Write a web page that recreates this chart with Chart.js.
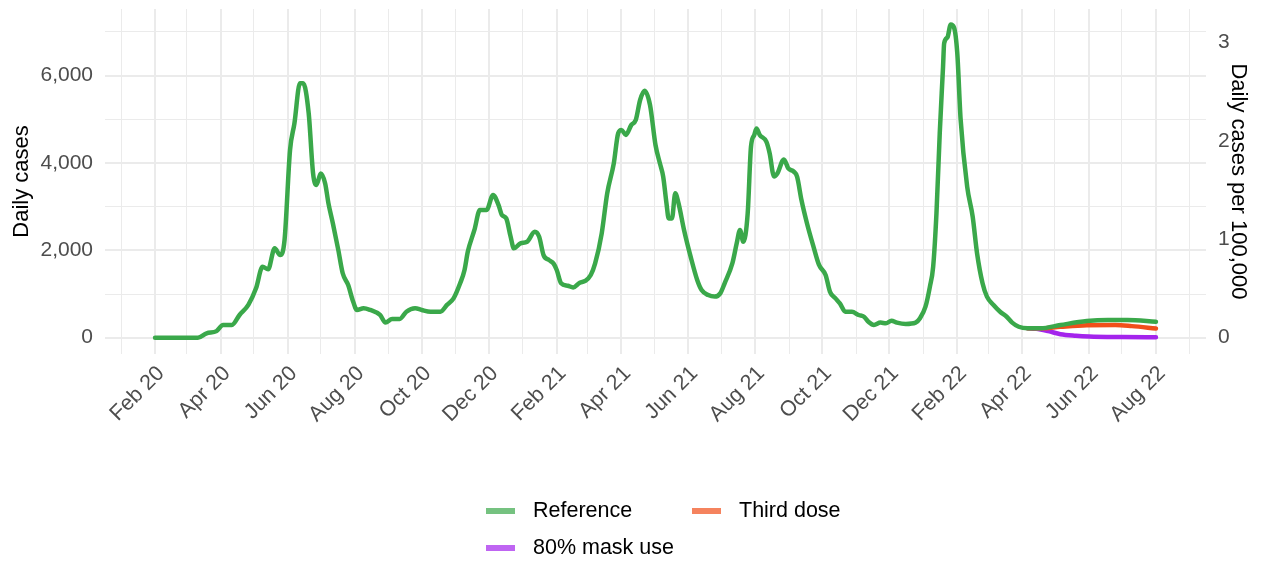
<!DOCTYPE html>
<html>
<head>
<meta charset="utf-8">
<title>Daily cases</title>
<script src="https://cdn.jsdelivr.net/npm/chart.js@4.4.1/dist/chart.umd.min.js"></script>
<style>
  body { margin: 0; background: #fff; }
  #wrap { position: relative; width: 1263px; height: 561px; }
  #legend {
    position: absolute; left: 486px; top: 492px;
    display: grid; grid-template-columns: 206px 206px;
    font: 21.5px "Liberation Sans", Arial, sans-serif; color: #000;
  }
  #legend .item { display: flex; align-items: center; height: 37px; }
  #legend .sw { width: 29px; height: 6px; margin-right: 18px; }
</style>
</head>
<body>
<div id="wrap">
  <canvas id="myChart"></canvas>
  <div id="legend"></div>
</div>
<script>
// ---- data ----
var refDates = [
  '2020-02-01','2020-03-11','2020-03-19','2020-03-28','2020-04-03','2020-04-11','2020-04-18','2020-04-26',
  '2020-05-03','2020-05-09','2020-05-14','2020-05-20','2020-05-25','2020-05-29','2020-06-03','2020-06-07',
  '2020-06-12','2020-06-15','2020-06-20','2020-06-24','2020-06-27','2020-07-01','2020-07-05','2020-07-08',
  '2020-07-12','2020-07-17','2020-07-21','2020-07-26','2020-07-30','2020-08-03','2020-08-09','2020-08-15',
  '2020-08-24','2020-08-29','2020-09-04','2020-09-11','2020-09-17','2020-09-25','2020-10-01','2020-10-09',
  '2020-10-18','2020-10-24','2020-10-30','2020-11-05','2020-11-09','2020-11-12','2020-11-18','2020-11-23',
  '2020-11-29','2020-12-05','2020-12-10','2020-12-13','2020-12-17','2020-12-21','2020-12-24','2020-12-30',
  '2021-01-05','2021-01-12','2021-01-16','2021-01-20','2021-01-25','2021-01-29','2021-02-01','2021-02-05',
  '2021-02-11','2021-02-16','2021-02-22','2021-02-27','2021-03-04','2021-03-08','2021-03-14','2021-03-19',
  '2021-03-25','2021-03-29','2021-04-01','2021-04-05','2021-04-10','2021-04-14','2021-04-18','2021-04-22',
  '2021-04-27','2021-05-02','2021-05-06','2021-05-09','2021-05-12','2021-05-14','2021-05-17','2021-05-20',
  '2021-05-23','2021-05-28','2021-06-03','2021-06-09','2021-06-13','2021-06-19','2021-06-25','2021-06-30',
  '2021-07-04','2021-07-11','2021-07-15','2021-07-18','2021-07-21','2021-07-25','2021-07-28','2021-07-31',
  '2021-08-02','2021-08-05','2021-08-11','2021-08-14','2021-08-18','2021-08-21','2021-08-27','2021-08-31',
  '2021-09-05','2021-09-08','2021-09-12','2021-09-17','2021-09-23','2021-09-28','2021-10-04','2021-10-08',
  '2021-10-13','2021-10-17','2021-10-22','2021-10-28','2021-11-03','2021-11-08','2021-11-12','2021-11-17',
  '2021-11-23','2021-11-28','2021-12-03','2021-12-08','2021-12-16','2021-12-25','2021-12-29','2022-01-03',
  '2022-01-07','2022-01-10','2022-01-13','2022-01-16','2022-01-19','2022-01-20','2022-01-23','2022-01-26',
  '2022-01-29','2022-02-01','2022-02-04','2022-02-10','2022-02-15','2022-02-19','2022-02-24','2022-02-28',
  '2022-03-06','2022-03-12','2022-03-18','2022-03-23','2022-03-29','2022-04-06','2022-04-18','2022-05-06',
  '2022-05-30','2022-06-18','2022-07-06','2022-08-01'
];
var refCases = [
  0, 0, 100, 150, 290, 290, 520, 750,
  1130, 1625, 1565, 2045, 1890, 2235, 4295, 4905,
  5820, 5820, 5135, 3760, 3495, 3760, 3530, 3075,
  2620, 2005, 1475, 1205, 865, 635, 675, 635,
  520, 345, 430, 430, 595, 675, 635, 595,
  595, 750, 900, 1245, 1550, 1970, 2465, 2920,
  2920, 3265, 3035, 2810, 2730, 2310, 2045, 2160,
  2195, 2425, 2310, 1890, 1775, 1700, 1550, 1245,
  1190, 1150, 1260, 1300, 1435, 1700, 2390, 3305,
  3990, 4680, 4755, 4640, 4870, 4980, 5440, 5650,
  5325, 4410, 3990, 3685, 3075, 2730, 2730, 3305,
  3075, 2465, 1855, 1320, 1090, 975, 940, 1015,
  1245, 1700, 2160, 2465, 2195, 2845, 4370, 4640,
  4790, 4640, 4485, 4220, 3690, 3760, 4080, 3875,
  3800, 3685, 3150, 2620, 2080, 1665, 1435, 1050,
  900, 785, 595, 595, 520, 480, 365, 290,
  345, 330, 390, 345, 315, 345, 445, 710,
  1165, 1625, 2845, 4680, 6200, 6735, 6870, 7170,
  7100, 6500, 5000, 3455, 2770, 1930, 1245, 940,
  750, 595, 480, 345, 250, 215, 215, 290,
  380, 405, 405, 365
];

var boostDates = ['2022-04-06','2022-04-18','2022-05-06','2022-05-30','2022-06-25','2022-07-10','2022-08-01'];
var boostCases = [215, 215, 250, 285, 290, 265, 210];

var maskDates = ['2022-04-06','2022-04-14','2022-04-25','2022-05-06','2022-05-20','2022-06-01','2022-07-01','2022-08-01'];
var maskCases = [215, 205, 150, 80, 45, 28, 15, 10];

var xTickDates = ['2020-02-01','2020-04-01','2020-06-01','2020-08-01','2020-10-01','2020-12-01',
  '2021-02-01','2021-04-01','2021-06-01','2021-08-01','2021-10-01','2021-12-01',
  '2022-02-01','2022-04-01','2022-06-01','2022-08-01'];
var xTickLabels = ['Feb 20','Apr 20','Jun 20','Aug 20','Oct 20','Dec 20',
  'Feb 21','Apr 21','Jun 21','Aug 21','Oct 21','Dec 21',
  'Feb 22','Apr 22','Jun 22','Aug 22'];
var xMinorDates = ['2020-01-01','2020-03-01','2020-05-01','2020-07-01','2020-09-01','2020-11-01',
  '2021-01-01','2021-03-01','2021-05-01','2021-07-01','2021-09-01','2021-11-01',
  '2022-01-01','2022-03-01','2022-05-01','2022-07-01','2022-09-01'];

var yTicks = [0, 2000, 4000, 6000];
var yMinorTicks = [1000, 3000, 5000, 7000];
var y2Ticks = [0, 1, 2, 3];
var casesPerUnit = 2254;   // daily cases that make 1 per 100,000

var seriesNames = ['Reference', 'Third dose', '80% mask use'];
var seriesColors = ['rgb(58,168,74)', 'rgb(241,79,26)', 'rgb(164,36,236)'];
var legendColors = ['rgba(58,168,74,0.7)', 'rgba(241,79,26,0.7)', 'rgba(164,36,236,0.7)'];

// ---- helpers ----
var day0 = Date.UTC(2020, 1, 1);
function dayNum(s) {
  var p = s.split('-');
  return (Date.UTC(+p[0], +p[1] - 1, +p[2]) - day0) / 86400000;
}
function toPoints(dates, vals) {
  return dates.map(function(d, i) { return { x: dayNum(d), y: vals[i] }; });
}

var majorDays = xTickDates.map(dayNum);
var minorDays = xMinorDates.map(dayNum);
var allXTicks = majorDays.concat(minorDays).sort(function(a, b) { return a - b; });

var xSpan = majorDays[majorDays.length - 1] - majorDays[0];
var xMin = majorDays[0] - 0.05 * xSpan;
var xMax = majorDays[majorDays.length - 1] + 0.05 * xSpan;
var yMin = -373, yMax = 7522;

Chart.defaults.font.family = '"Liberation Sans", Arial, sans-serif';

function makeSet(i, dates, vals) {
  return {
    label: seriesNames[i],
    data: toPoints(dates, vals),
    borderColor: seriesColors[i],
    backgroundColor: seriesColors[i],
    borderWidth: 4.5,
    pointRadius: 0,
    cubicInterpolationMode: 'monotone',
    borderCapStyle: 'round',
    borderJoinStyle: 'round',
    fill: false,
    yAxisID: 'y'
  };
}

// keep the plot panel where the original has it
function noPadY(axis, w) {
  axis.width = w;
  axis.paddingTop = 0;
  axis.paddingBottom = 0;
}

var ctx = document.getElementById('myChart').getContext('2d');
var myChart = new Chart(ctx, {
  type: 'line',
  data: {
    datasets: [
      makeSet(0, refDates, refCases),
      makeSet(1, boostDates, boostCases),
      makeSet(2, maskDates, maskCases)
    ]
  },
  options: {
    responsive: true,
    maintainAspectRatio: false,
    animation: false,
    layout: { padding: { top: 9, left: 0, right: 0, bottom: 0 } },
    plugins: { legend: { display: false }, tooltip: { enabled: false } },
    scales: {
      x: {
        type: 'linear',
        min: xMin,
        max: xMax,
        afterBuildTicks: function(axis) {
          axis.ticks = allXTicks.map(function(v) { return { value: v }; });
        },
        afterFit: function(axis) {
          axis.height = 207;
          axis.paddingLeft = 0;
          axis.paddingRight = 0;
        },
        ticks: {
          autoSkip: false,
          minRotation: 45,
          maxRotation: 45,
          padding: 7,
          labelOffset: 6,
          color: '#4D4D4D',
          font: { size: 21.5 },
          callback: function(value) {
            var i = majorDays.indexOf(value);
            return i >= 0 ? xTickLabels[i] : '';
          }
        },
        grid: {
          color: '#EBEBEB',
          drawTicks: false,
          lineWidth: function(c) {
            return (c.tick && majorDays.indexOf(c.tick.value) >= 0) ? 2 : 1;
          }
        },
        border: { display: false }
      },
      y: {
        position: 'left',
        min: yMin,
        max: yMax,
        afterBuildTicks: function(axis) {
          axis.ticks = yTicks.concat(yMinorTicks).sort(function(a, b) { return a - b; })
            .map(function(v) { return { value: v }; });
        },
        afterFit: function(axis) { noPadY(axis, 105); },
        ticks: {
          padding: 12,
          color: '#4D4D4D',
          font: { size: 21 },
          callback: function(value) {
            return yTicks.indexOf(value) >= 0 ? value.toLocaleString('en-US') : '';
          }
        },
        grid: {
          color: '#EBEBEB',
          drawTicks: false,
          lineWidth: function(c) {
            return (c.tick && yTicks.indexOf(c.tick.value) >= 0) ? 2 : 1;
          }
        },
        border: { display: false },
        title: {
          display: true,
          text: 'Daily cases',
          color: '#000',
          font: { size: 22 },
          padding: { top: 9, bottom: 0 }
        }
      },
      y2: {
        position: 'right',
        min: yMin / casesPerUnit,
        max: yMax / casesPerUnit,
        afterBuildTicks: function(axis) {
          axis.ticks = y2Ticks.map(function(v) { return { value: v }; });
        },
        afterFit: function(axis) { noPadY(axis, 57); },
        ticks: {
          padding: 12,
          color: '#4D4D4D',
          font: { size: 21 },
          callback: function(value) { return String(value); }
        },
        grid: { display: false, drawTicks: false, drawOnChartArea: false },
        border: { display: false },
        title: {
          display: true,
          text: 'Daily cases per 100,000',
          color: '#000',
          font: { size: 22 },
          padding: { top: 12, bottom: 0 }
        }
      }
    }
  }
});

// legend laid out in two columns like the original
var legendEl = document.getElementById('legend');
myChart.data.datasets.forEach(function(ds, i) {
  var item = document.createElement('div');
  item.className = 'item';
  var sw = document.createElement('span');
  sw.className = 'sw';
  sw.style.background = legendColors[i];
  var txt = document.createElement('span');
  txt.textContent = ds.label;
  item.appendChild(sw);
  item.appendChild(txt);
  legendEl.appendChild(item);
});
</script>
</body>
</html>
